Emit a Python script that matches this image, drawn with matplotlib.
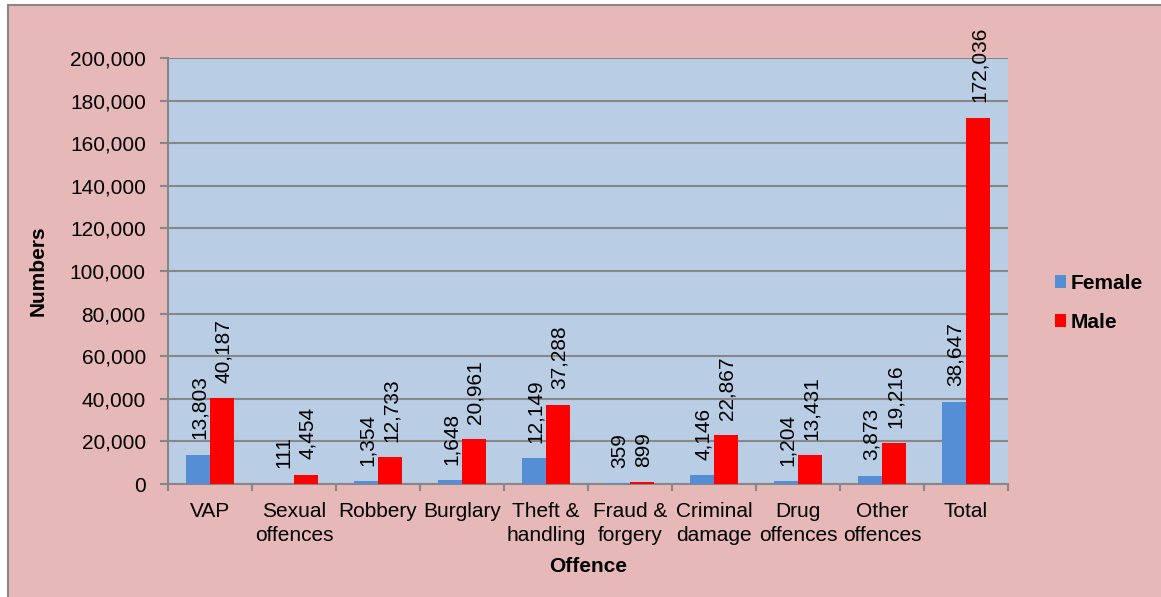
import matplotlib
matplotlib.use('Agg')
import matplotlib.pyplot as plt
from matplotlib.patches import Rectangle
from matplotlib.ticker import FuncFormatter, MultipleLocator
import numpy as np

plt.rcParams['font.family'] = ['Liberation Sans', 'DejaVu Sans']

# data
offences = ['VAP', 'Sexual\noffences', 'Robbery', 'Burglary', 'Theft &\nhandling',
            'Fraud &\nforgery', 'Criminal\ndamage', 'Drug\noffences', 'Other\noffences', 'Total']
female = [13803, 111, 1354, 1648, 12149, 359, 4146, 1204, 3873, 38647]
male = [40187, 4454, 12733, 20961, 37288, 899, 22867, 13431, 19216, 172036]

outer_bg = '#E6B9B8'
plot_bg = '#B9CDE5'
grey = '#878787'
col_f = '#558ED5'
col_m = '#FF0000'

fig = plt.figure(figsize=(11.61, 5.97), dpi=100)
fig.patch.set_facecolor('white')

# chart area box (runs off right and bottom edges)
W, H = 1161, 597
fig.patches.append(Rectangle((8 / W, -0.05), 1.1, 1 - 5 / H + 0.05, transform=fig.transFigure,
                             facecolor=outer_bg, edgecolor=grey, linewidth=1.5, zorder=-10))

ax = fig.add_axes([168 / W, 1 - 484 / H, (1008 - 168) / W, (484 - 58) / H])
ax.set_facecolor(plot_bg)

x = np.arange(len(offences))
bw = 0.28
bars_f = ax.bar(x - bw / 2, female, bw, color=col_f, label='Female', zorder=3)
bars_m = ax.bar(x + bw / 2, male, bw, color=col_m, label='Male', zorder=3)

for bars in (bars_f, bars_m):
    for b in bars:
        h = b.get_height()
        ax.annotate(f'{h:,.0f}', (b.get_x() + b.get_width() / 2, h), xytext=(1, 11),
                    textcoords='offset points', rotation=90, ha='center', va='bottom',
                    fontsize=15, clip_on=False, zorder=4)

ax.set_xlim(-0.5, len(offences) - 0.5)
ax.set_ylim(0, 200000)
ax.yaxis.set_major_locator(MultipleLocator(20000))
ax.yaxis.set_major_formatter(FuncFormatter(lambda v, p: f'{v:,.0f}'))
ax.grid(axis='y', color=grey, linewidth=1.5, zorder=0)
ax.set_axisbelow(True)

ax.set_xticks(x)
ax.set_xticklabels(offences, fontsize=15, linespacing=1.3)
ax.set_xticks(np.arange(-0.5, len(offences)), minor=True)
ax.tick_params(axis='x', which='major', length=0, pad=13)
ax.tick_params(axis='x', which='minor', length=5, width=1.5, color=grey)
ax.tick_params(axis='y', length=6, width=1.5, color=grey, labelsize=15, pad=10)

for side in ('top', 'right'):
    ax.spines[side].set_visible(False)
for side in ('left', 'bottom'):
    ax.spines[side].set_color(grey)
    ax.spines[side].set_linewidth(1.5)

fig.text(38 / W, 1 - 271 / H, 'Numbers', rotation=90, ha='center', va='center',
         fontsize=15, fontweight='bold')
fig.text(588 / W, 1 - 567 / H, 'Offence', ha='center', va='center',
         fontsize=15, fontweight='bold')

fig.legend(loc='center left', bbox_to_anchor=(1036 / W, 1 - 303 / H), frameon=False,
           prop={'size': 15, 'weight': 'bold'}, handlelength=0.55, handleheight=0.55,
           handletextpad=0.2, labelspacing=0.95)

fig.savefig('out.png', dpi=100, facecolor=fig.get_facecolor())
